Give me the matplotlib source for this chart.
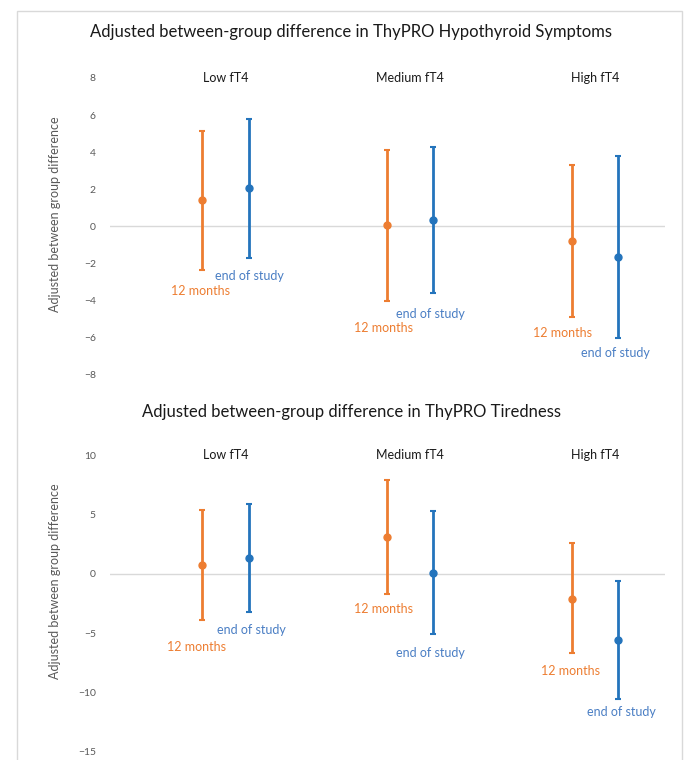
import numpy as np
import matplotlib.pyplot as plt
from matplotlib.patches import Rectangle

plt.rcParams['font.family'] = ['Lato', 'DejaVu Sans']

# Data
groups = ['Low fT4', 'Medium fT4', 'High fT4']

# ThyPRO Hypothyroid Symptoms
sym_12m = [1.4, 0.1, -0.8]
sym_12m_lo = [-2.35, -4.0, -4.9]
sym_12m_hi = [5.15, 4.1, 3.3]
sym_end = [2.05, 0.35, -1.65]
sym_end_lo = [-1.7, -3.6, -6.0]
sym_end_hi = [5.8, 4.3, 3.8]

# ThyPRO Tiredness
tir_12m = [0.7, 3.1, -2.15]
tir_12m_lo = [-3.9, -1.7, -6.7]
tir_12m_hi = [5.4, 7.9, 2.6]
tir_end = [1.3, 0.1, -5.6]
tir_end_lo = [-3.2, -5.1, -10.55]
tir_end_hi = [5.9, 5.25, -0.65]

ORANGE = '#ED7D31'
BLUE = '#2474BC'
BLUE_TXT = '#4A7EC4'
GRAY = '#595959'


def panel(ax, title, m12, lo12, hi12, mend, loend, hiend, ylim, yticks,
          lab12, labend, title_y, ylab_y):
    x = np.arange(len(groups))
    xb = x + 0.25
    m12 = np.array(m12); mend = np.array(mend)
    err12 = [m12 - np.array(lo12), np.array(hi12) - m12]
    errend = [mend - np.array(loend), np.array(hiend) - mend]

    ax.axhline(0, color='#D9D9D9', lw=1, zorder=1)
    ax.errorbar(x, m12, yerr=err12, fmt='o', color=ORANGE, ms=5,
                elinewidth=2, capsize=2.5, capthick=1.5, zorder=3)
    ax.errorbar(xb, mend, yerr=errend, fmt='o', color=BLUE, ms=5,
                elinewidth=2, capsize=2.5, capthick=1.5, zorder=3)

    for i, g in enumerate(groups):
        ax.text(i + 0.125, ylim[1], g, ha='center', va='center',
                fontsize=9, color='#1a1a1a')
        ax.text(lab12[i][0], lab12[i][1], '12 months', ha='left',
                va='center', fontsize=9, color=ORANGE)
        ax.text(labend[i][0], labend[i][1], 'end of study', ha='left',
                va='center', fontsize=9, color=BLUE_TXT)

    ax.set_xlim(-0.5, 2.5)
    ax.set_ylim(*ylim)
    ax.set_yticks(yticks)
    ax.set_xticks([])
    ax.tick_params(axis='y', length=0, pad=10, labelsize=7.5, labelcolor=GRAY)
    for s in ax.spines.values():
        s.set_visible(False)
    ax.set_ylabel('Adjusted between group difference', fontsize=9,
                  color=GRAY)
    ax.yaxis.set_label_coords(-0.088, ylab_y)
    ax.figure.text(0.512, title_y, title, ha='center', va='center',
                   fontsize=12, color='#1a1a1a')


fig = plt.figure(figsize=(6.86, 7.6), dpi=100)

# light frame around the chart
fig.patches.append(Rectangle((17 / 686, -0.01), 665 / 686, 1 - 11 / 760 + 0.01,
                             transform=fig.transFigure, fill=False,
                             edgecolor='#D9D9D9', lw=1))

ax1 = fig.add_axes([0.160, 0.5066, 0.809, 0.3908])
panel(ax1, 'Adjusted between-group difference in ThyPRO Hypothyroid Symptoms',
      sym_12m, sym_12m_lo, sym_12m_hi, sym_end, sym_end_lo, sym_end_hi,
      (-8, 8), np.arange(-8, 9, 2),
      [(-0.17, -3.45), (0.82, -5.45), (1.79, -5.74)],
      [(0.07, -2.66), (1.05, -4.71), (2.05, -6.8)],
      1 - 32 / 760, 0.54)

ax2 = fig.add_axes([0.160, 0.0109, 0.809, 0.3904])
panel(ax2, 'Adjusted between-group difference in ThyPRO Tiredness',
      tir_12m, tir_12m_lo, tir_12m_hi, tir_end, tir_end_lo, tir_end_hi,
      (-15, 10), np.arange(-15, 11, 5),
      [(-0.19, -6.18), (0.82, -3.01), (1.83, -8.2)],
      [(0.08, -4.78), (1.05, -6.71), (2.08, -11.68)],
      1 - 412 / 760, 0.575)

fig.savefig('out.png', dpi=100)
